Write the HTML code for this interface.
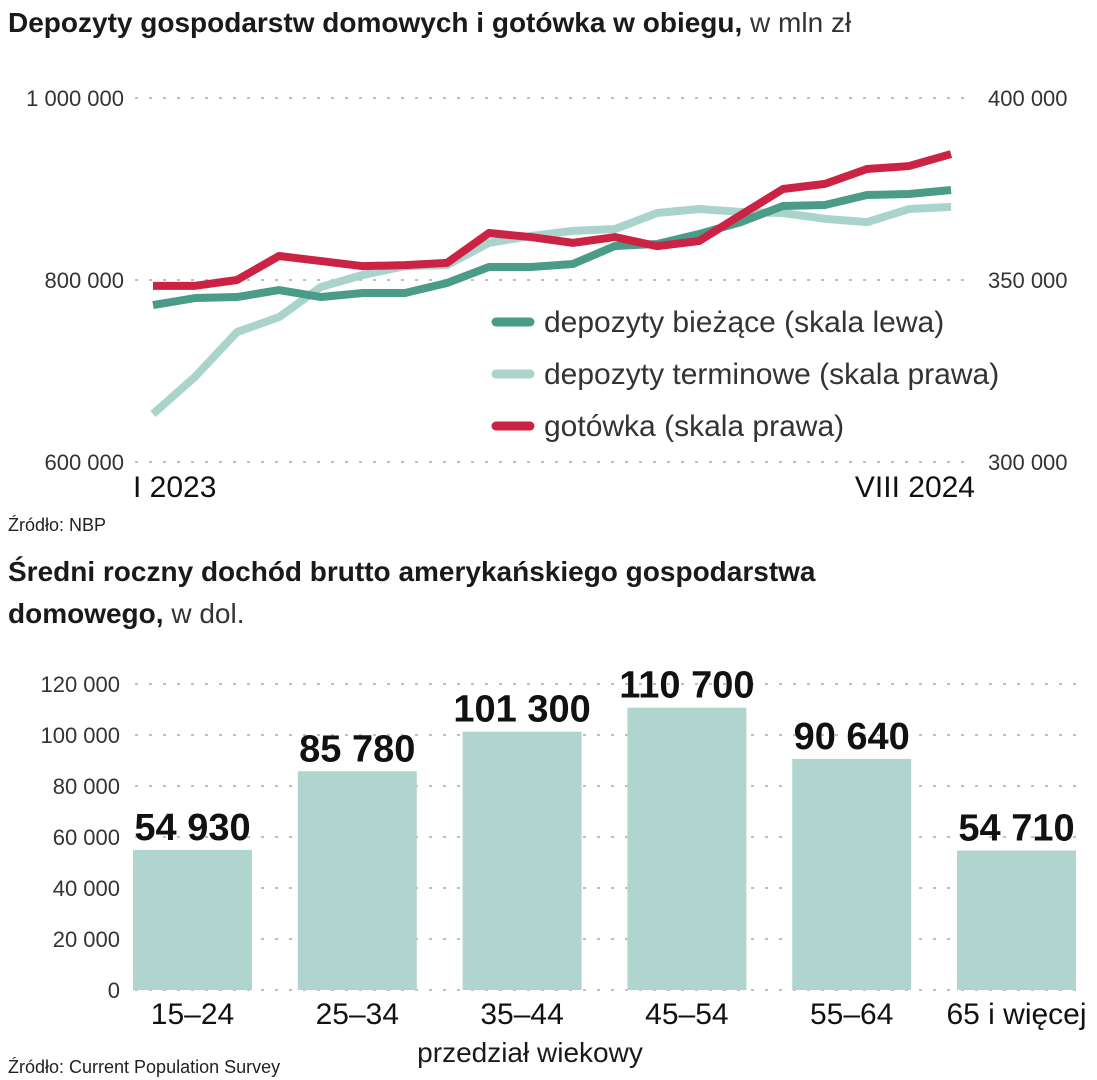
<!DOCTYPE html>
<html><head><meta charset="utf-8"><style>
body{margin:0;background:#fff;}
svg{display:block;font-family:"Liberation Sans Narrow","Liberation Sans",sans-serif;}
</style></head><body>
<svg id="c" width="1097" height="1080" viewBox="0 0 1097 1080">
<text x="8" y="32" font-size="28" font-weight="bold" fill="#1a1a1a">Depozyty gospodarstw domowych i gotówka w obiegu,<tspan font-weight="normal" fill="#333"> w mln zł</tspan></text>
<g id="lc"></g>
<text x="8" y="531" font-size="18" fill="#222">Źródło: NBP</text>
<text x="8" y="581" font-size="28" font-weight="bold" fill="#1a1a1a">Średni roczny dochód brutto amerykańskiego gospodarstwa</text>
<text x="8" y="623" font-size="28" font-weight="bold" fill="#1a1a1a">domowego,<tspan font-weight="normal" fill="#333"> w dol.</tspan></text>
<g id="bc"></g>
<text x="8" y="1073" font-size="18" fill="#222">Źródło: Current Population Survey</text>
<text x="530" y="1062" font-size="28" text-anchor="middle" fill="#1a1a1a">przedział wiekowy</text>
</svg>
<script>
const bieżące=[772500,780200,781300,789000,781300,785700,785700,796700,814300,814300,817600,837400,839600,850500,863700,881300,882400,893400,894500,898900];
const terminowe=[313200,323400,335700,339800,348100,351400,353800,354100,360200,362100,363500,364000,368400,369500,368700,368400,366800,365900,369500,370100];
const gotowka=[348400,348400,350000,356600,355200,353800,354100,354700,362900,361800,360200,361800,359300,360700,367900,375000,376400,380500,381300,384600];
const leftTicks=[600000,800000,1000000];
const leftLabels=["600 000","800 000","1 000 000"];
const rightTicks=[300000,350000,400000];
const rightLabels=["300 000","350 000","400 000"];
const categories=["15–24","25–34","35–44","45–54","55–64","65 i więcej"];
const incomes=[54930,85780,101300,110700,90640,54710];
const incomeLabels=["54 930","85 780","101 300","110 700","90 640","54 710"];
const barTicks=[0,20000,40000,60000,80000,100000,120000];
const barTickLabels=["0","20 000","40 000","60 000","80 000","100 000","120 000"];

const NS="http://www.w3.org/2000/svg";
function mk(p,t,a){const e=document.createElementNS(NS,t);for(const k in a)e.setAttribute(k,a[k]);p.appendChild(e);return e;}
const lc=document.getElementById('lc');
const xL=i=>153+i*(951-153)/(bieżące.length-1);
const yLeft=v=>462-(v-600000)/400000*364;
const yRight=v=>462-(v-300000)/100000*364;
leftTicks.forEach((t,i)=>{
  const g=mk(lc,'line',{x1:135,x2:975,y1:yLeft(t),y2:yLeft(t),stroke:'#aaa','stroke-width':1.5,'stroke-dasharray':'3 11'});
  
  
  const l=mk(lc,'text',{x:124,y:yLeft(t)+8,'font-size':22,'text-anchor':'end',fill:'#333'});
  l.textContent=leftLabels[i];
  
  
});
rightTicks.forEach((t,i)=>{
  const l=mk(lc,'text',{x:988,y:yRight(t)+8,'font-size':22,fill:'#333'});
  l.textContent=rightLabels[i];
  
  
});
function line(data,yf,col,name){
  const p=mk(lc,'polyline',{points:data.map((v,i)=>xL(i)+','+yf(v)).join(' '),fill:'none',stroke:col,'stroke-width':8,'stroke-linejoin':'round'});
  
  
}
line(terminowe,yRight,'#a9d3cb','series-terminowe');
line(bieżące,yLeft,'#4a9c88','series-biezace');
line(gotowka,yRight,'#cc2344','series-gotowka');
const leg=[['#4a9c88','depozyty bieżące (skala lewa)',322],['#a9d3cb','depozyty terminowe (skala prawa)',374],['#cc2344','gotówka (skala prawa)',426]];
leg.forEach(d=>{
  const r=mk(lc,'line',{x1:496,x2:530,y1:d[2],y2:d[2],stroke:d[0],'stroke-width':9,'stroke-linecap':'round'});
  
  
  const t=mk(lc,'text',{x:544,y:d[2]+10,'font-size':30,fill:'#333'});
  t.textContent=d[1];
  
  
});
const x1=mk(lc,'text',{x:133,y:497,'font-size':30,fill:'#111'});x1.textContent='I 2023';


const x2=mk(lc,'text',{x:975,y:497,'font-size':30,fill:'#111','text-anchor':'end'});x2.textContent='VIII 2024';



const bc=document.getElementById('bc');
const yB=v=>990-v/120000*306;
const xB=i=>133+i*164.8;
barTicks.forEach((t,i)=>{
  const g=mk(bc,'line',{x1:135,x2:1080,y1:yB(t),y2:yB(t),stroke:'#aaa','stroke-width':1.5,'stroke-dasharray':'3 11'});
  
  
  const l=mk(bc,'text',{x:120,y:yB(t)+8,'font-size':22,'text-anchor':'end',fill:'#333'});
  l.textContent=barTickLabels[i];
  
  
});
incomes.forEach((v,i)=>{
  const r=mk(bc,'rect',{x:xB(i),y:yB(v),width:119,height:990-yB(v),fill:'#b0d5ce'});
  
  
  const t=mk(bc,'text',{x:xB(i)+59.5,y:yB(v)-10,'font-size':38,'font-weight':'bold','text-anchor':'middle',fill:'#111'});
  t.textContent=incomeLabels[i];
  
  
  const c=mk(bc,'text',{x:xB(i)+59.5,y:1024,'font-size':30,'text-anchor':'middle',fill:'#111'});
  c.textContent=categories[i];
  
  
});
</script>
</body></html>
